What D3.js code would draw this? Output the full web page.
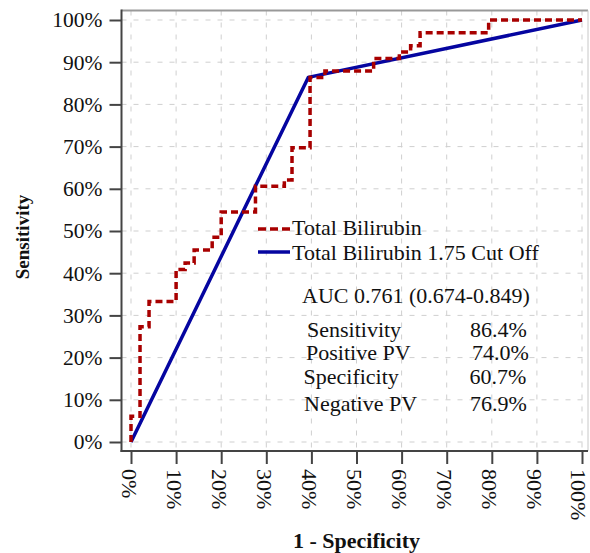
<!DOCTYPE html>
<html><head><meta charset="utf-8">
<script src="https://cdn.jsdelivr.net/npm/d3@7"></script>
<style>
html,body{margin:0;padding:0;background:#fff;}
svg{display:block;}
text{font-family:"Liberation Serif","Times New Roman",serif;fill:#111;}
</style></head>
<body>
<svg id="c" width="590" height="553"></svg>
<script>
// ---- data ----
const ticks = [0,0.1,0.2,0.3,0.4,0.5,0.6,0.7,0.8,0.9,1];
const tickLabels = ["0%","10%","20%","30%","40%","50%","60%","70%","80%","90%","100%"];
const seriesNames = ["Total Bilirubin","Total Bilirubin 1.75 Cut Off"];
// empirical ROC (1 - specificity, sensitivity)
const rocFpr  = [0,0,0.02,0.02,0.04,0.04,0.10,0.10,0.12,0.12,0.14,0.14,0.18,0.18,0.20,0.20,0.276,0.276,0.34,0.34,0.357,0.357,0.397,0.397,0.43,0.43,0.538,0.538,0.595,0.595,0.62,0.62,0.641,0.641,0.793,0.793,1];
const rocSens = [0,0.061,0.061,0.273,0.273,0.333,0.333,0.409,0.409,0.424,0.424,0.455,0.455,0.485,0.485,0.545,0.545,0.606,0.606,0.621,0.621,0.697,0.697,0.864,0.864,0.879,0.879,0.909,0.909,0.924,0.924,0.939,0.939,0.970,0.970,1,1];
// cut-off ROC
const cutFpr  = [0,0.393,1];
const cutSens = [0,0.864,1];
const aucText = "AUC 0.761 (0.674-0.849)";
const statNames  = ["Sensitivity","Positive PV","Specificity","Negative PV"];
const statValues = ["86.4%","74.0%","60.7%","76.9%"];

// ---- drawing ----
const svg = d3.select("#c");
const x = d3.scaleLinear().domain([0,1]).range([131,582]);
const y = d3.scaleLinear().domain([0,1]).range([442,20]);
const frame = {l:121.5, r:588, t:10.5, b:451};
const FS = "22px";

// grid
const g = svg.append("g");
g.selectAll("line.h").data(ticks).join("line")
  .attr("x1",frame.l).attr("x2",frame.r)
  .attr("y1",d=>y(d)).attr("y2",d=>y(d))
  .attr("stroke","#cfcfcf").attr("stroke-width",1).attr("stroke-dasharray","5,7");
g.selectAll("line.v").data(ticks).join("line")
  .attr("y1",frame.t).attr("y2",frame.b)
  .attr("x1",d=>x(d)).attr("x2",d=>x(d))
  .attr("stroke","#cfcfcf").attr("stroke-width",1).attr("stroke-dasharray","5,7");

// frame top/right
svg.append("line").attr("x1",frame.l).attr("x2",frame.r).attr("y1",frame.t).attr("y2",frame.t)
  .attr("stroke","#999").attr("stroke-width",2);
svg.append("line").attr("x1",frame.r).attr("x2",frame.r).attr("y1",frame.t).attr("y2",frame.b)
  .attr("stroke","#c8c8c8").attr("stroke-width",1);

// axes
const yAxis = d3.axisLeft(y).tickValues(ticks).tickFormat((d,i)=>tickLabels[i]).tickSize(12).tickPadding(7);
const ya = svg.append("g").attr("transform",`translate(${frame.l},0)`).call(yAxis);
ya.select(".domain").remove();
ya.selectAll(".tick line").attr("stroke","#444").attr("stroke-width",2);
ya.selectAll(".tick text").style("font-family","'Liberation Serif',serif").style("font-size","21.5px").attr("fill","#111");

const xAxis = d3.axisBottom(x).tickValues(ticks).tickFormat((d,i)=>tickLabels[i]).tickSize(13).tickPadding(6);
const xa = svg.append("g").attr("transform",`translate(0,${frame.b})`).call(xAxis);
xa.select(".domain").remove();
xa.selectAll(".tick line").attr("stroke","#444").attr("stroke-width",2);
xa.selectAll(".tick text")
  .style("font-family","'Liberation Serif',serif").style("font-size","22px").attr("fill","#111")
  .attr("text-anchor","start").attr("y",0).attr("x",0)
  .attr("dy",(d,i)=> i===ticks.length-1 ? "0.54em" : "0.45em")
  .attr("transform","translate(0,18) rotate(90)");

// axis lines
svg.append("line").attr("x1",frame.l).attr("x2",frame.l).attr("y1",frame.t-1).attr("y2",frame.b+1)
  .attr("stroke","#444").attr("stroke-width",2);
svg.append("line").attr("x1",frame.l-1).attr("x2",frame.r).attr("y1",frame.b).attr("y2",frame.b)
  .attr("stroke","#444").attr("stroke-width",2);

// axis titles
svg.append("text").attr("transform","translate(29,237) rotate(-90)")
  .attr("text-anchor","middle").style("font-size","19px").style("font-weight","bold").text("Sensitivity");
svg.append("text").attr("x",(x(0)+x(1))/2).attr("y",548)
  .attr("text-anchor","middle").style("font-size","22px").style("font-weight","bold").text("1 - Specificity");

// lines
const line = d3.line().x(d=>x(d[0])).y(d=>y(d[1]));
const cutPts = cutFpr.map((v,i)=>[v,cutSens[i]]);
const rocPts = rocFpr.map((v,i)=>[v,rocSens[i]]);
svg.append("path").datum(cutPts).attr("d",line).attr("fill","none")
  .attr("stroke","#0505a0").attr("stroke-width",3.5).attr("stroke-linejoin","round");
svg.append("path").datum(rocPts).attr("d",line).attr("fill","none")
  .attr("stroke","#a80000").attr("stroke-width",3.5).attr("stroke-dasharray","7,4");

// legend
const leg = [{y:229, ty:235, color:"#a80000", dash:"8,4", name:seriesNames[0]},
             {y:252, ty:260, color:"#0505a0", dash:null, name:seriesNames[1]}];
leg.forEach(l=>{
  svg.append("line").attr("x1",258).attr("x2",290).attr("y1",l.y).attr("y2",l.y)
    .attr("stroke",l.color).attr("stroke-width",3.5).attr("stroke-dasharray",l.dash);
  svg.append("text").attr("x",292).attr("y",l.ty).style("font-size",FS).text(l.name);
});

// stats
svg.append("text").attr("x",302).attr("y",303).style("font-size",FS).text(aucText);
const statX = [307,306,303.5,304];
const valX  = [470,472,469.5,470];
const statY = [337,360,384,411];
statNames.forEach((n,i)=>{
  svg.append("text").attr("x",statX[i]).attr("y",statY[i]).style("font-size",FS).text(n);
  svg.append("text").attr("x",valX[i]).attr("y",statY[i]).style("font-size",FS).text(statValues[i]);
});
</script>
</body></html>
